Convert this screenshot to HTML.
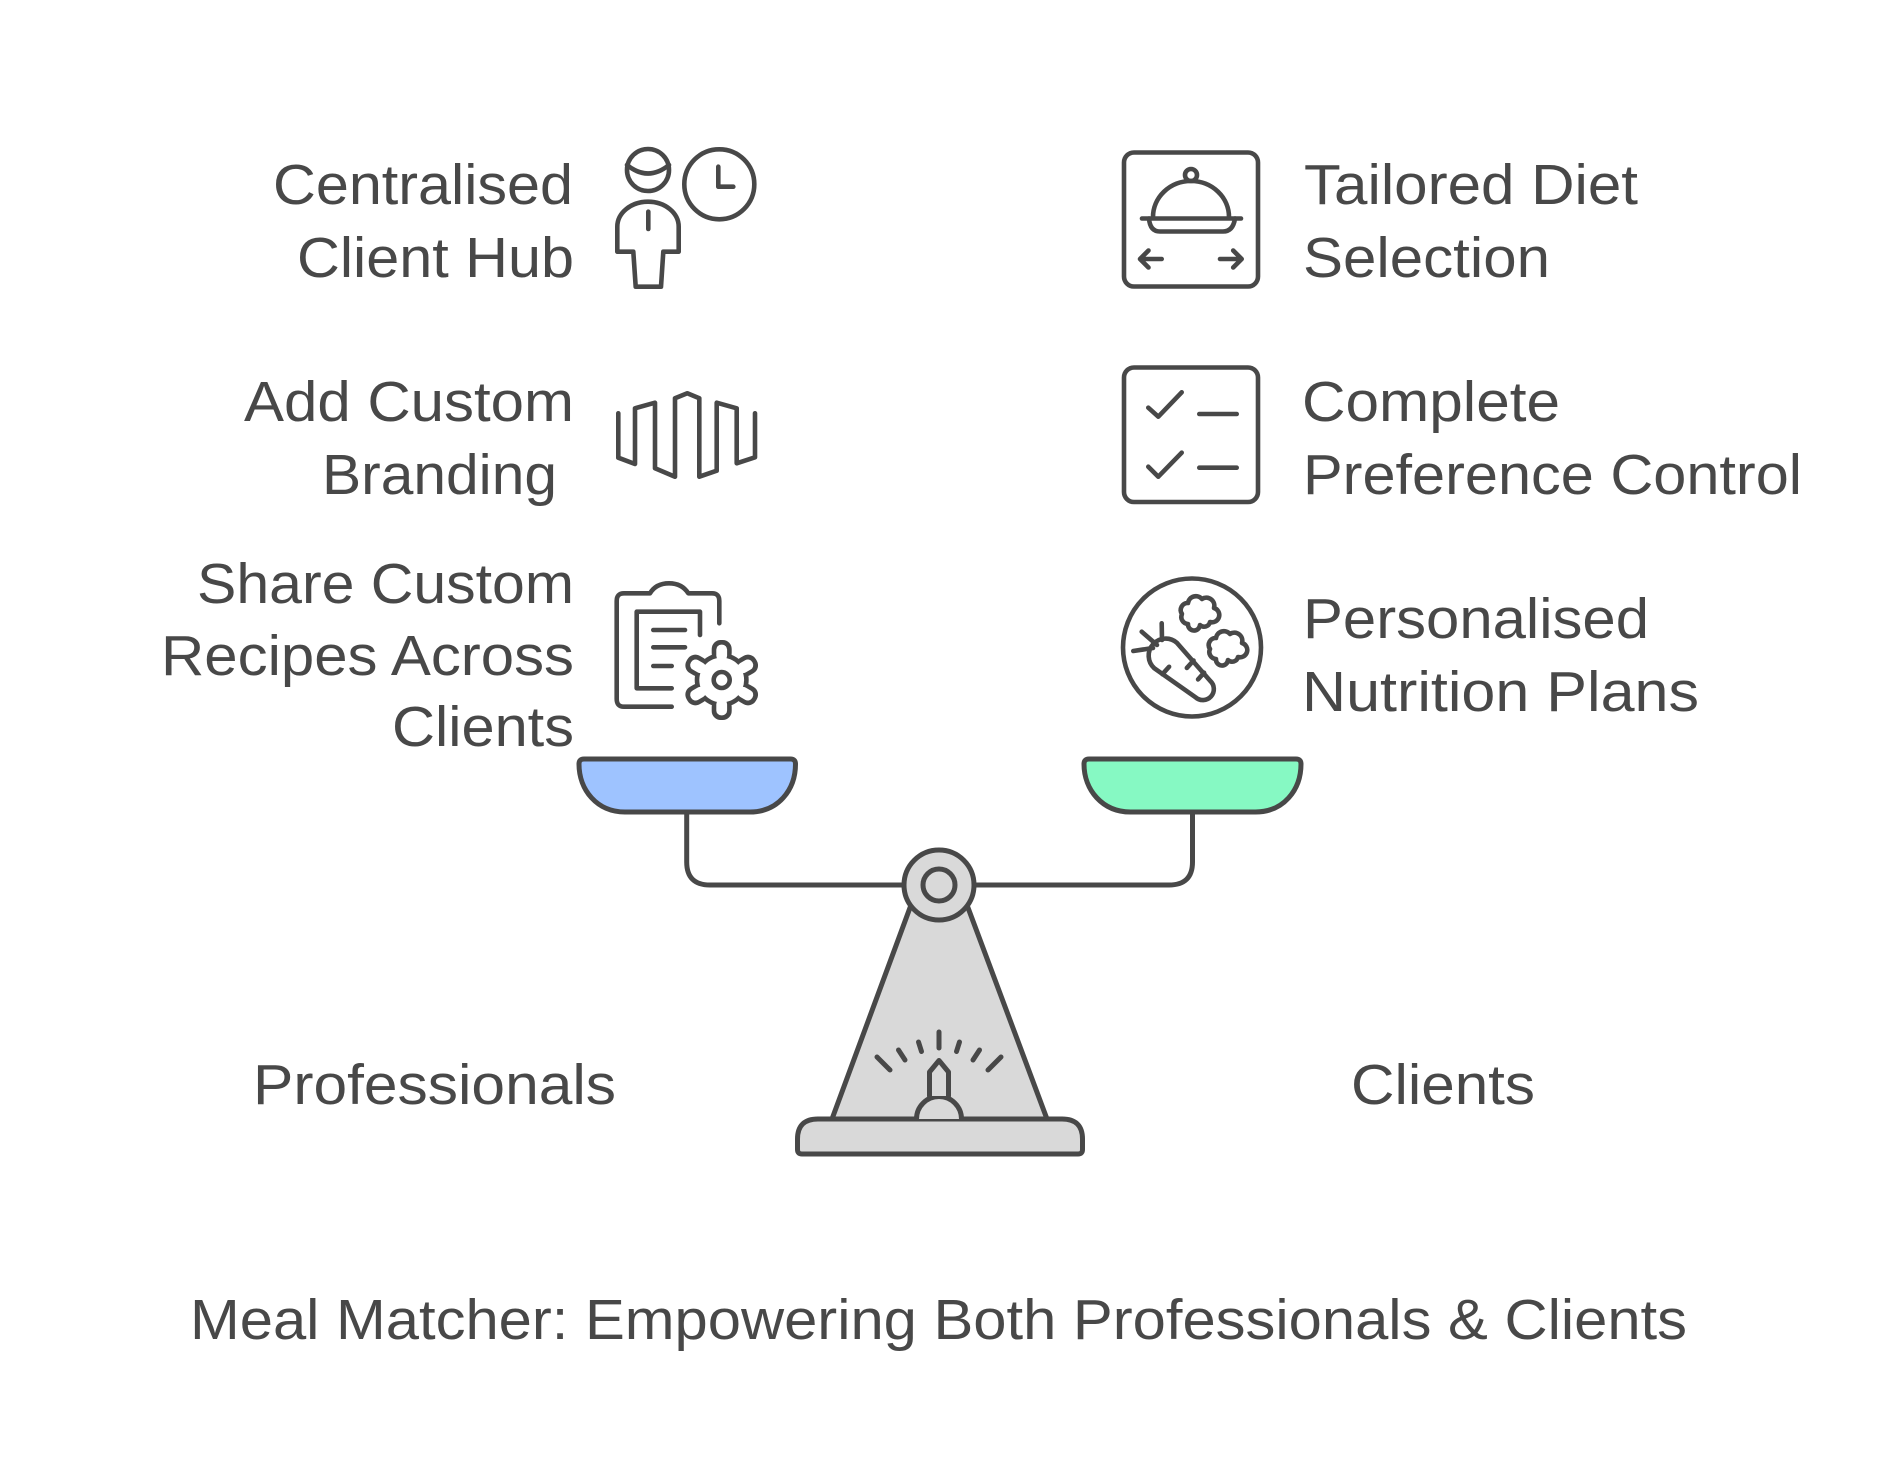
<!DOCTYPE html>
<html>
<head>
<meta charset="utf-8">
<style>
html,body{margin:0;padding:0;background:#ffffff;}
svg{display:block;}
text{font-family:"Liberation Sans",Arial,sans-serif;font-size:57px;fill:#484848;}
</style>
</head>
<body>
<svg width="1878" height="1482" viewBox="0 0 1878 1482" xmlns="http://www.w3.org/2000/svg">
<rect x="0" y="0" width="1878" height="1482" fill="#ffffff"/>

<!-- Left texts -->
<text x="273" y="204" textLength="300" lengthAdjust="spacingAndGlyphs">Centralised</text>
<text x="297" y="277" textLength="277" lengthAdjust="spacingAndGlyphs">Client Hub</text>
<text x="244" y="421" textLength="330" lengthAdjust="spacingAndGlyphs">Add Custom</text>
<text x="322" y="494" textLength="235" lengthAdjust="spacingAndGlyphs">Branding</text>
<text x="197" y="603" textLength="377" lengthAdjust="spacingAndGlyphs">Share Custom</text>
<text x="161" y="675" textLength="413" lengthAdjust="spacingAndGlyphs">Recipes Across</text>
<text x="392" y="746" textLength="182" lengthAdjust="spacingAndGlyphs">Clients</text>

<!-- Right texts -->
<text x="1304" y="204" textLength="334" lengthAdjust="spacingAndGlyphs">Tailored Diet</text>
<text x="1303" y="277" textLength="247" lengthAdjust="spacingAndGlyphs">Selection</text>
<text x="1302" y="421" textLength="258" lengthAdjust="spacingAndGlyphs">Complete</text>
<text x="1303" y="494" textLength="499" lengthAdjust="spacingAndGlyphs">Preference Control</text>
<text x="1303" y="638" textLength="346" lengthAdjust="spacingAndGlyphs">Personalised</text>
<text x="1302" y="711" textLength="397" lengthAdjust="spacingAndGlyphs">Nutrition Plans</text>

<!-- Bottom labels -->
<text x="253" y="1104" textLength="363" lengthAdjust="spacingAndGlyphs">Professionals</text>
<text x="1351" y="1104" textLength="184" lengthAdjust="spacingAndGlyphs">Clients</text>
<text x="190" y="1339" textLength="1497" lengthAdjust="spacingAndGlyphs">Meal Matcher: Empowering Both Professionals &amp; Clients</text>

<g fill="none" stroke="#484848" stroke-width="4.6" stroke-linecap="round" stroke-linejoin="round">
  <!-- Person + clock icon -->
  <circle cx="648" cy="170" r="21"/>
  <path d="M627,165 Q648,182 669,165"/>
  <circle cx="719.3" cy="184.3" r="35"/>
  <path d="M718.3,166.7 V186.7 H733.3"/>
  <path d="M635.7,286.7 L633.3,251.7 H617.3 V226.7 A30.7 25 0 0 1 678.7,226.7 V251.7 H663.3 L661,286.7 Z"/>
  <path d="M648.3,211.7 V229"/>

  <!-- Branding icon -->
  <path d="M618.3,413.3 V457.7 L635,464 V408.3 L655,402.7 V468.3 L675,476.7 V398.3 L687.3,393.3 L699.3,398.3 V476.7 L716.7,470.7 V402.7 L736.7,408.3 V463.3 L755,457.3 V413.3"/>

  <!-- Clipboard icon -->
  <path d="M671.7,706.7 H624 Q616.7,706.7 616.7,699 V601 Q616.7,593.3 624,593.3 H650 Q656,583.3 669,583.3 Q682,583.3 688.3,593.3 H712 Q719.3,593.3 719.3,601 V623.3"/>
  <path d="M671.7,688.3 H636.7 V611.7 H700 V635"/>
  <path d="M653.3,630 H685 M653.3,647.3 H685 M653.3,666 H671.7"/>
</g>

<!-- Gear (layered outline) -->
<g transform="translate(721.7,680)">
  <g fill="#484848">
    <circle r="27"/>
    <rect x="-10" y="-40" width="20" height="22" rx="9" transform="rotate(0)"/>
    <rect x="-10" y="-40" width="20" height="22" rx="9" transform="rotate(60)"/>
    <rect x="-10" y="-40" width="20" height="22" rx="9" transform="rotate(120)"/>
    <rect x="-10" y="-40" width="20" height="22" rx="9" transform="rotate(180)"/>
    <rect x="-10" y="-40" width="20" height="22" rx="9" transform="rotate(240)"/>
    <rect x="-10" y="-40" width="20" height="22" rx="9" transform="rotate(300)"/>
  </g>
  <g fill="#ffffff">
    <circle r="22.4"/>
    <rect x="-5.4" y="-35.4" width="10.8" height="16" rx="5" transform="rotate(0)"/>
    <rect x="-5.4" y="-35.4" width="10.8" height="16" rx="5" transform="rotate(60)"/>
    <rect x="-5.4" y="-35.4" width="10.8" height="16" rx="5" transform="rotate(120)"/>
    <rect x="-5.4" y="-35.4" width="10.8" height="16" rx="5" transform="rotate(180)"/>
    <rect x="-5.4" y="-35.4" width="10.8" height="16" rx="5" transform="rotate(240)"/>
    <rect x="-5.4" y="-35.4" width="10.8" height="16" rx="5" transform="rotate(300)"/>
  </g>
  <circle r="8" fill="none" stroke="#484848" stroke-width="4.6"/>
</g>

<g fill="none" stroke="#484848" stroke-width="4.6" stroke-linecap="round" stroke-linejoin="round">
  <!-- Diet icon -->
  <rect x="1124" y="152.5" width="134" height="134" rx="10"/>
  <circle cx="1191" cy="175" r="6"/>
  <path d="M1153,217 A38 36 0 0 1 1229,217"/>
  <path d="M1142,218.5 H1241"/>
  <path d="M1149,218.5 Q1150,231.5 1160,231.5 H1223 Q1233,231.5 1235,218.5"/>
  <path d="M1140,259 H1161.7 M1148.5,250.5 L1140,259 L1148.5,267.5"/>
  <path d="M1220,259 H1241.7 M1233.2,250.5 L1241.7,259 L1233.2,267.5"/>

  <!-- Checklist icon -->
  <rect x="1124" y="367.5" width="134" height="134.5" rx="10"/>
  <path d="M1148.3,407.7 L1158.3,416.7 L1181.7,392.3"/>
  <path d="M1199.3,414 H1236.7"/>
  <path d="M1148.3,466.7 L1158.3,476.7 L1181.7,452.7"/>
  <path d="M1199.3,467.7 H1236.7"/>

  <!-- Nutrition icon -->
  <circle cx="1192" cy="647.5" r="69"/>
  <g transform="translate(1185,673) rotate(42)">
    <path d="M-26,-17 L24,-11 A11 11 0 0 1 24,11 L-26,17 A17 17 0 0 1 -26,-17 Z"/>
    <path d="M-16,16 V6 M-2,-15 V-5 M14,-13 V-4"/>
  </g>
  <path d="M1133.3,651 L1153,648 M1141.7,631.7 L1157,645 M1161.7,623.3 L1162,640"/>
  <g transform="translate(1198,612)">
    <path d="M-10,12 A7 7 0 0 1 -16,2 A7 7 0 0 1 -10,-9 A8 8 0 0 1 4,-13 A8 8 0 0 1 16,-4 A7 7 0 0 1 12,10 A6 6 0 0 1 2,13 A6 6 0 0 1 -10,12 Z"/>
  </g>
  <g transform="translate(1226,647)">
    <path d="M-10,12 A7 7 0 0 1 -16,2 A7 7 0 0 1 -10,-9 A8 8 0 0 1 4,-13 A8 8 0 0 1 16,-4 A7 7 0 0 1 12,10 A6 6 0 0 1 2,13 A6 6 0 0 1 -10,12 Z"/>
  </g>
</g>

<!-- Balance scale -->
<g stroke="#484848" stroke-width="5" stroke-linecap="round" stroke-linejoin="round">
  <!-- Arms -->
  <path d="M686.7,812 V862 Q686.7,885 710,885 H915" fill="none"/>
  <path d="M1192.5,812 V862 Q1192.5,885 1169,885 H963" fill="none"/>
  <!-- Pans -->
  <path d="M584,759 H790.5 Q795.5,759 795.5,764 C795.5,790 778,812 750,812 H625 C597,812 579,790 579,764 Q579,759 584,759 Z" fill="#9ec3ff"/>
  <path d="M1089,759 H1296 Q1301,759 1301,764 C1301,790 1283.5,812 1255.5,812 H1130.5 C1102.5,812 1084,790 1084,764 Q1084,759 1089,759 Z" fill="#86f9c3"/>
  <!-- Triangle stand -->
  <path d="M911,905 L967,905 L1047,1119 L832,1119 Z" fill="#d9d9d9"/>
  <!-- Pivot -->
  <circle cx="939" cy="885" r="35" fill="#d9d9d9"/>
  <circle cx="939" cy="885" r="16" fill="#d9d9d9"/>
  <!-- Base -->
  <path d="M802,1154 H1078 Q1082.5,1154 1082.5,1149.5 V1139 Q1082.5,1119 1062,1119 H818 Q797.5,1119 797.5,1139 V1149.5 Q797.5,1154 802,1154 Z" fill="#d9d9d9"/>
  <!-- Gauge -->
  <path d="M916.5,1119 A22.5 22.5 0 0 1 961.5,1119" fill="#d9d9d9"/>
  <path d="M929.5,1096 V1072 L939,1060.5 L948.5,1072 V1096" fill="#d9d9d9"/>
  <g fill="none">
    <path d="M939,1032 V1048"/>
    <path d="M918.5,1042 L921.5,1051.5"/>
    <path d="M898.5,1050 L905,1060"/>
    <path d="M877,1057 L890,1070"/>
    <path d="M959.5,1042 L956.5,1051.5"/>
    <path d="M979.5,1050 L973,1060"/>
    <path d="M1001,1057 L988,1070"/>
  </g>
</g>
</svg>
</body>
</html>
